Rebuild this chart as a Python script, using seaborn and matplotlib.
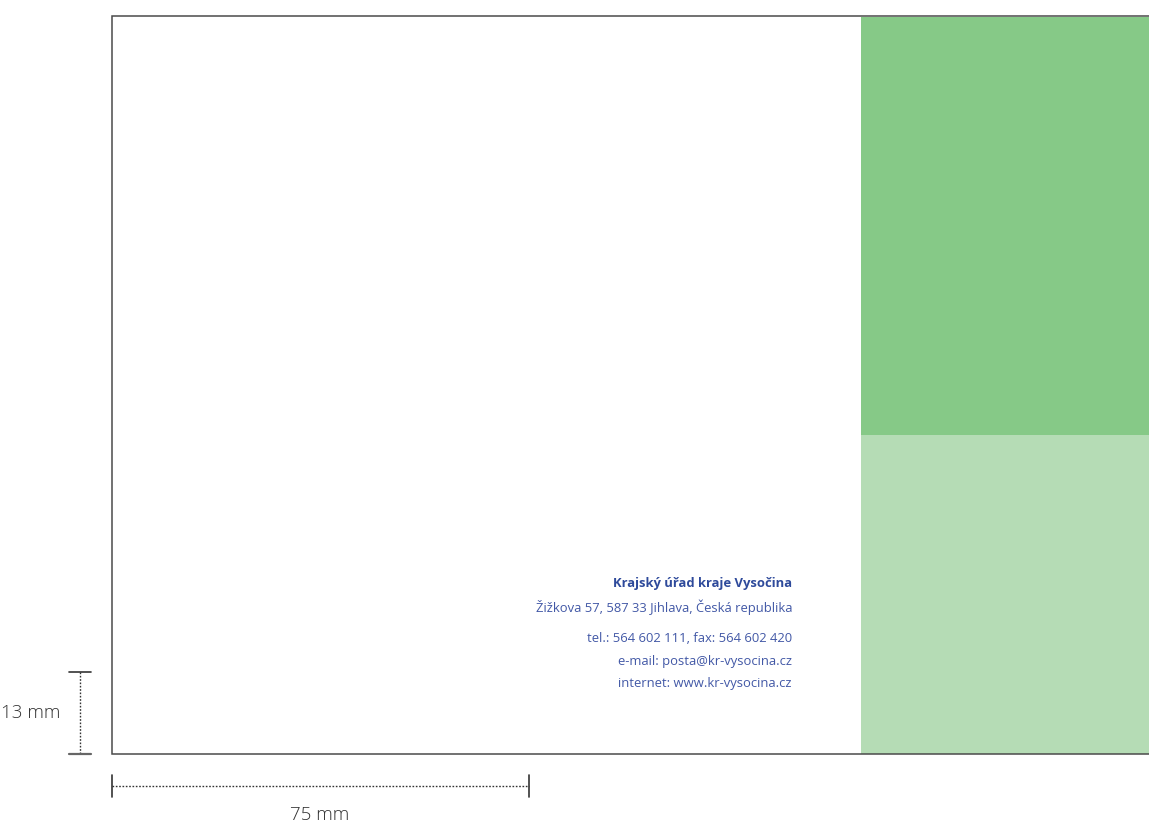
import matplotlib
matplotlib.use("Agg")
import matplotlib.pyplot as plt
import seaborn as sns
import pandas as pd

# page layout (pixel units, y grows downwards)
frame_left, frame_top, frame_bottom, frame_right = 112, 16, 754, 1149
band_names = ["upper", "lower"]
band_top = [17, 435]
band_bottom = [435, 754]
band_left = 861
band_colors = ["#86c987", "#b5dcb5"]

sender_lines = [
    "Krajský úřad kraje Vysočina",
    "Žižkova 57, 587 33 Jihlava, Česká republika",
    "tel.: 564 602 111, fax: 564 602 420",
    "e-mail: posta@kr-vysocina.cz",
    "internet: www.kr-vysocina.cz",
]
sender_y = [584, 607, 639, 661, 684]
sender_bold = [True, False, False, False, False]

dim_labels = ["13 mm", "75 mm"]

sns.set_style("white")
plt.rcParams["font.family"] = ["Open Sans", "DejaVu Sans"]

fig = plt.figure(figsize=(11.49, 8.26), dpi=100)
ax = fig.add_axes([0, 0, 1, 1])
ax.set_xlim(0, 1149)
ax.set_ylim(826, 0)
ax.axis("off")

# green colour blocks on the right
bands = pd.DataFrame({"name": band_names, "top": band_top,
                      "bottom": band_bottom, "color": band_colors})
for _, b in bands.iterrows():
    ax.bar(band_left, b["bottom"] - b["top"], bottom=b["top"],
           width=frame_right - band_left + 2, align="edge",
           color=b["color"], linewidth=0)

# page frame
ax.plot([frame_right + 2, frame_left, frame_left, frame_right + 2],
        [frame_top, frame_top, frame_bottom, frame_bottom],
        color="#4a4a4a", lw=1.1, solid_joinstyle="miter")

# sender block
for txt, y, bold in zip(sender_lines, sender_y, sender_bold):
    ax.text(792, y, txt, ha="right", va="center", fontsize=9.4,
            fontweight="bold" if bold else "normal",
            color="#2e4a9b" if bold else "#4258a6")

# 13 mm dimension
ax.plot([80, 80], [672, 754], color="#333333", lw=1, ls=(0, (1.2, 1.2)))
ax.plot([69, 91], [672, 672], color="#333333", lw=1.2)
ax.plot([69, 91], [754, 754], color="#666666", lw=1.6)
ax.text(31, 713, dim_labels[0], ha="center", va="center", fontsize=13.5,
        color="#333333", fontweight="light")

# 75 mm dimension
ax.plot([112, 529], [786, 786], color="#333333", lw=1, ls=(0, (1.2, 1.2)))
ax.plot([112, 112], [775, 797], color="#333333", lw=1.2)
ax.plot([529, 529], [775, 797], color="#333333", lw=1.2)
ax.text(320, 815, dim_labels[1], ha="center", va="center", fontsize=13.5,
        color="#333333", fontweight="light")

fig.savefig("out.png", dpi=100)
